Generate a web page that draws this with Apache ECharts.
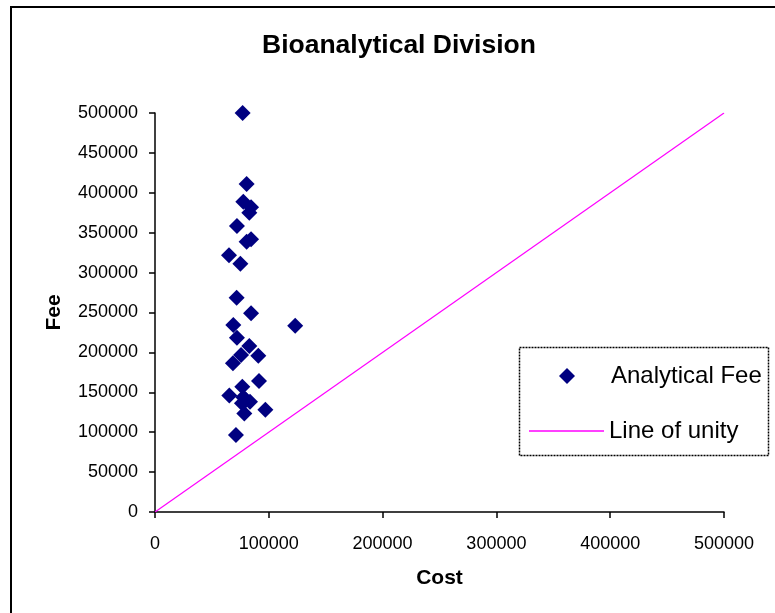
<!DOCTYPE html>
<html>
<head>
<meta charset="utf-8">
<title>Bioanalytical Division</title>
<script src="https://cdn.jsdelivr.net/npm/echarts@6/dist/echarts.min.js"></script>
<style>
  html, body { margin: 0; padding: 0; background: #fff; }
  #chart { width: 775px; height: 613px; }
</style>
</head>
<body>
<div id="chart"></div>
<script>
// cost / fee pairs
var costs = [77000, 80500, 77600, 84400, 82900, 72000, 84400, 80500, 65000, 75000,
             71700, 84400, 68800, 123200, 72000, 82900, 75600, 90800, 68500, 91400,
             76700, 65300, 80000, 76400, 83500, 97000, 78500, 77600, 71100];
var fees = [500000, 411000, 388800, 381800, 375000, 358400, 341700, 338700, 321600, 311100,
            268500, 249000, 234300, 233400, 218400, 208000, 196700, 195800, 186300, 164100,
            157000, 146000, 140300, 136200, 138200, 128000, 123500, 143700, 96500];
var unityX = [0, 500000];
var unityY = [0, 500000];

var font = 'Liberation Sans, Arial, sans-serif';
var plain = function (v) { return String(v); };

var chart = echarts.init(document.getElementById('chart'));

chart.setOption({
    animation: false,
    title: {
        text: 'Bioanalytical Division',
        left: 262,
        top: 32,
        padding: 0,
        textStyle: { fontFamily: font, fontSize: 26.5, fontWeight: 'bold', color: '#000' }
    },
    grid: { left: 155, right: 51, top: 113, bottom: 101, containLabel: false },
    legend: [
        {
            data: [{ name: 'Analytical Fee', icon: 'diamond' }],
            orient: 'vertical',
            left: 559, top: 362, padding: 0,
            itemWidth: 16, itemHeight: 16,
            textStyle: { fontFamily: font, fontSize: 24, color: '#000', lineHeight: 28, padding: [0, 0, 0, 31] }
        },
        {
            data: [{ name: 'Line of unity', icon: 'rect' }],
            orient: 'vertical',
            left: 529, top: 417, padding: 0,
            itemWidth: 75, itemHeight: 1.5,
            textStyle: { fontFamily: font, fontSize: 24, color: '#000', lineHeight: 28 }
        }
    ],
    xAxis: {
        type: 'value',
        min: 0, max: 500000, interval: 100000,
        name: 'Cost',
        nameLocation: 'middle',
        nameGap: 56,
        nameTextStyle: { fontFamily: font, fontSize: 21, fontWeight: 'bold', color: '#000' },
        axisLine: { show: true, onZero: false, lineStyle: { color: '#000', width: 1.5 } },
        axisTick: { show: true, inside: false, length: 6, lineStyle: { color: '#000', width: 1.5 } },
        axisLabel: { margin: 23, fontFamily: font, fontSize: 18, color: '#000', formatter: plain },
        splitLine: { show: false }
    },
    yAxis: {
        type: 'value',
        min: 0, max: 500000, interval: 50000,
        name: 'Fee',
        nameLocation: 'middle',
        nameGap: 90,
        nameTextStyle: { fontFamily: font, fontSize: 21, fontWeight: 'bold', color: '#000' },
        axisLine: { show: true, onZero: false, lineStyle: { color: '#000', width: 1.5 } },
        axisTick: { show: true, inside: false, length: 6, lineStyle: { color: '#000', width: 1.5 } },
        axisLabel: { margin: 17, fontFamily: font, fontSize: 18, color: '#000', formatter: plain },
        splitLine: { show: false }
    },
    graphic: [
        {
            type: 'rect',
            shape: { x: 11, y: 7, width: 900, height: 800 },
            style: { fill: 'none', stroke: '#000', lineWidth: 2 },
            silent: true
        },
        {
            type: 'rect',
            shape: { x: 519.5, y: 347.5, width: 249, height: 108 },
            style: { fill: '#fff', stroke: '#000', lineWidth: 1.5, lineDash: [2, 1] },
            z: -1,
            silent: true
        }
    ],
    series: [
        {
            name: 'Analytical Fee',
            type: 'scatter',
            symbol: 'diamond',
            symbolSize: 16,
            itemStyle: { color: '#000080', opacity: 1 },
            data: costs.map(function (c, i) { return [c, fees[i]]; }),
            z: 3
        },
        {
            name: 'Line of unity',
            type: 'line',
            symbol: 'none',
            itemStyle: { color: '#ff00ff' },
            lineStyle: { color: '#ff00ff', width: 1.2 },
            data: unityX.map(function (x, i) { return [x, unityY[i]]; }),
            z: 2
        }
    ]
});
</script>
</body>
</html>
